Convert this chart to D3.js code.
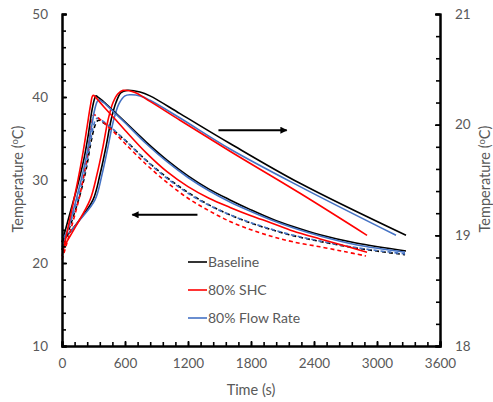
<!DOCTYPE html>
<html><head><meta charset="utf-8">
<script src="https://cdn.jsdelivr.net/npm/d3@7"></script>
<style>body{margin:0;background:#fff}svg{display:block}text{font-family:Lato,"Open Sans",sans-serif;fill:#595959}</style>
</head><body><svg id="c" width="493" height="402"></svg>
<script>
// Time (s) / temperature pairs. "Left" curves use left axis (10-50 °C), "Right" curves use right axis (18-21 °C)
const baselineLeft = [[0,22.5],[76,26.0],[152,29.5],[210,32.6],[250,35.4],[285,38.4],[310,39.8],[324,40.15],[345,39.95],[400,39.4],[500,38.2],[600,37.0],[800,34.6],[1000,32.4],[1200,30.5],[1400,28.9],[1600,27.6],[1800,26.4],[2000,25.3],[2200,24.4],[2457,23.4],[2800,22.4],[3276,21.45]];
const shcLeft = [[0,20.8],[76,25.4],[152,30.0],[200,33.3],[240,36.5],[270,38.9],[290,40.1],[300,40.2],[315,40.05],[362,39.35],[400,38.8],[500,37.4],[600,36.0],[800,33.3],[1000,31.0],[1200,29.2],[1400,27.8],[1600,26.7],[1800,25.7],[2000,24.8],[2200,23.85],[2457,22.9],[2700,22.05],[2905,21.3]];
const flowLeft = [[0,23.0],[38,23.5],[95,25.8],[171,29.4],[230,32.7],[275,35.9],[310,38.4],[335,39.45],[352,39.65],[375,39.5],[400,39.3],[500,38.1],[600,36.9],[800,34.4],[1000,32.2],[1200,30.3],[1400,28.7],[1600,27.35],[1800,26.2],[2000,25.15],[2200,24.25],[2457,23.25],[2800,22.2],[3267,21.3]];
const baselineDash = [[0,21.6],[76,24.4],[171,28.2],[230,31.3],[275,34.5],[310,36.4],[335,37.1],[352,37.2],[375,37.05],[450,36.4],[600,34.8],[800,32.4],[1000,30.3],[1200,28.5],[1400,27.0],[1600,25.8],[1800,24.8],[2000,24.0],[2200,23.3],[2457,22.6],[2800,21.8],[3267,21.0]];
const flowDash = [[0,21.9],[76,24.7],[162,28.2],[225,31.4],[270,34.6],[300,36.5],[324,37.35],[343,37.45],[365,37.3],[450,36.5],[600,34.8],[800,32.35],[1000,30.2],[1200,28.4],[1400,26.95],[1600,25.8],[1800,24.85],[2000,24.05],[2200,23.35],[2457,22.65],[2800,21.85],[3267,21.1]];
const shcDash = [[0,20.4],[76,23.7],[171,28.2],[225,31.8],[262,34.9],[285,37.0],[298,37.8],[310,37.85],[330,37.65],[400,36.9],[500,35.7],[600,34.4],[800,31.9],[1000,29.7],[1200,27.8],[1400,26.3],[1600,25.0],[1800,24.0],[2000,23.2],[2200,22.55],[2457,21.95],[2700,21.35],[2895,20.85]];
const baselineRight = [[0,18.94],[152,19.12],[295,19.32],[362,19.55],[419,19.8],[467,20.04],[514,20.2],[562,20.29],[619,20.31],[743,20.295],[838,20.26],[1124,20.1],[1600,19.83],[2267,19.47],[3276,19.0]];
const shcRight = [[0,18.87],[124,19.07],[267,19.32],[333,19.55],[390,19.8],[438,20.04],[486,20.2],[533,20.28],[581,20.31],[695,20.29],[838,20.21],[1124,20.04],[1600,19.76],[2267,19.38],[2905,19.0]];
const flowRight = [[0,18.98],[57,19.01],[171,19.14],[314,19.32],[381,19.55],[438,19.8],[486,20.02],[543,20.19],[600,20.26],[648,20.27],[743,20.26],[838,20.22],[1124,20.06],[1600,19.78],[2267,19.44],[3181,19.0]];

const seriesNames = ["Baseline","80% SHC","80% Flow Rate"];
const seriesColors = ["#000000","#ff0000","#4472c4"];
const xTicks = [0,600,1200,1800,2400,3000,3600];
const yLeftTicks = [10,20,30,40,50];
const yRightTicks = [18,19,20,21];

const svg = d3.select("#c");
const x = d3.scaleLinear([0,3600],[62,440]);
const yL = d3.scaleLinear([10,50],[346,14]);
const yR = d3.scaleLinear([18,21],[346,14]);

const curves = [
  {d:baselineRight,y:yR,c:0,dash:null},{d:flowRight,y:yR,c:2,dash:null},{d:shcRight,y:yR,c:1,dash:null},
  {d:baselineDash,y:yL,c:0,dash:"4,3"},{d:flowDash,y:yL,c:2,dash:"4,3"},{d:shcDash,y:yL,c:1,dash:"4,3"},
  {d:baselineLeft,y:yL,c:0,dash:null},{d:flowLeft,y:yL,c:2,dash:null},{d:shcLeft,y:yL,c:1,dash:null}
];
curves.forEach(s=>{
  const line = d3.line().x(p=>x(p[0])).y(p=>s.y(p[1])).curve(d3.curveCatmullRom.alpha(0.5));
  svg.append("path").attr("d",line(s.d)).attr("fill","none")
    .attr("stroke",seriesColors[s.c]).attr("stroke-width",1.6)
    .attr("stroke-dasharray",s.dash);
});

function styleAxis(g){
  g.select(".domain").attr("stroke","#000").attr("stroke-width",2);
  g.selectAll(".tick line").attr("stroke","#000").attr("stroke-width",1.6);
  g.selectAll("text").style("font-size","13.5px").attr("fill","#595959");
}
// minor ticks
svg.append("g").attr("transform","translate(0,346)").call(d3.axisBottom(x).tickValues(d3.range(0,3601,120)).tickSize(-4).tickFormat("")).call(styleAxis);
svg.append("g").attr("transform","translate(62,0)").call(d3.axisLeft(yL).tickValues(d3.range(10,50.1,2)).tickSize(-4).tickFormat("")).call(styleAxis);
svg.append("g").attr("transform","translate(440,0)").call(d3.axisRight(yR).tickValues(d3.range(18,21.01,0.2)).tickSize(-4).tickFormat("")).call(styleAxis);
// major
svg.append("g").attr("transform","translate(0,346)").call(d3.axisBottom(x).tickValues(xTicks).tickSize(-5).tickPadding(12).tickFormat(d3.format("d"))).call(styleAxis);
svg.append("g").attr("transform","translate(62,0)").call(d3.axisLeft(yL).tickValues(yLeftTicks).tickSize(-5).tickPadding(14).tickFormat(d3.format("d"))).call(styleAxis);
svg.append("g").attr("transform","translate(440,0)").call(d3.axisRight(yR).tickValues(yRightTicks).tickSize(-5).tickPadding(15).tickFormat(d3.format("d"))).call(styleAxis);

// axis titles
svg.append("text").attr("x",251).attr("y",395).attr("text-anchor","middle").style("font-size","14.5px").text("Time (s)");
function yTitle(cx){
  const t = svg.append("text").attr("transform",`translate(${cx},179) rotate(-90)`).attr("text-anchor","middle").style("font-size","14.5px");
  t.append("tspan").text("Temperature (");
  t.append("tspan").attr("baseline-shift","super").style("font-size","9.5px").text("o");
  t.append("tspan").text("C)");
}
yTitle(23); yTitle(490);

// arrows
const defs = svg.append("defs");
defs.append("marker").attr("id","ah").attr("viewBox","0 0 10 10").attr("refX",9).attr("refY",5)
  .attr("markerWidth",9).attr("markerHeight",7).attr("markerUnits","userSpaceOnUse").attr("orient","auto")
  .append("path").attr("d","M0,0L10,5L0,10z").attr("fill","#000");
const arrowRight = [[1490,19.95],[2140,19.95]];
const arrowLeft = [[1290,25.8],[670,25.8]];
svg.append("line").attr("x1",x(arrowRight[0][0])).attr("x2",x(arrowRight[1][0])).attr("y1",yR(arrowRight[0][1])).attr("y2",yR(arrowRight[1][1])).attr("stroke","#000").attr("stroke-width",2).attr("marker-end","url(#ah)");
svg.append("line").attr("x1",x(arrowLeft[0][0])).attr("x2",x(arrowLeft[1][0])).attr("y1",yL(arrowLeft[0][1])).attr("y2",yL(arrowLeft[1][1])).attr("stroke","#000").attr("stroke-width",2).attr("marker-end","url(#ah)");

// legend
seriesNames.forEach((n,i)=>{
  const yy = 262 + i*28;
  svg.append("line").attr("x1",188).attr("x2",207).attr("y1",yy).attr("y2",yy).attr("stroke",seriesColors[i]).attr("stroke-width",1.6);
  svg.append("text").attr("x",208).attr("y",yy).attr("dy","0.35em").style("font-size","14px").attr("fill","#404040").text(n);
});
</script></body></html>
